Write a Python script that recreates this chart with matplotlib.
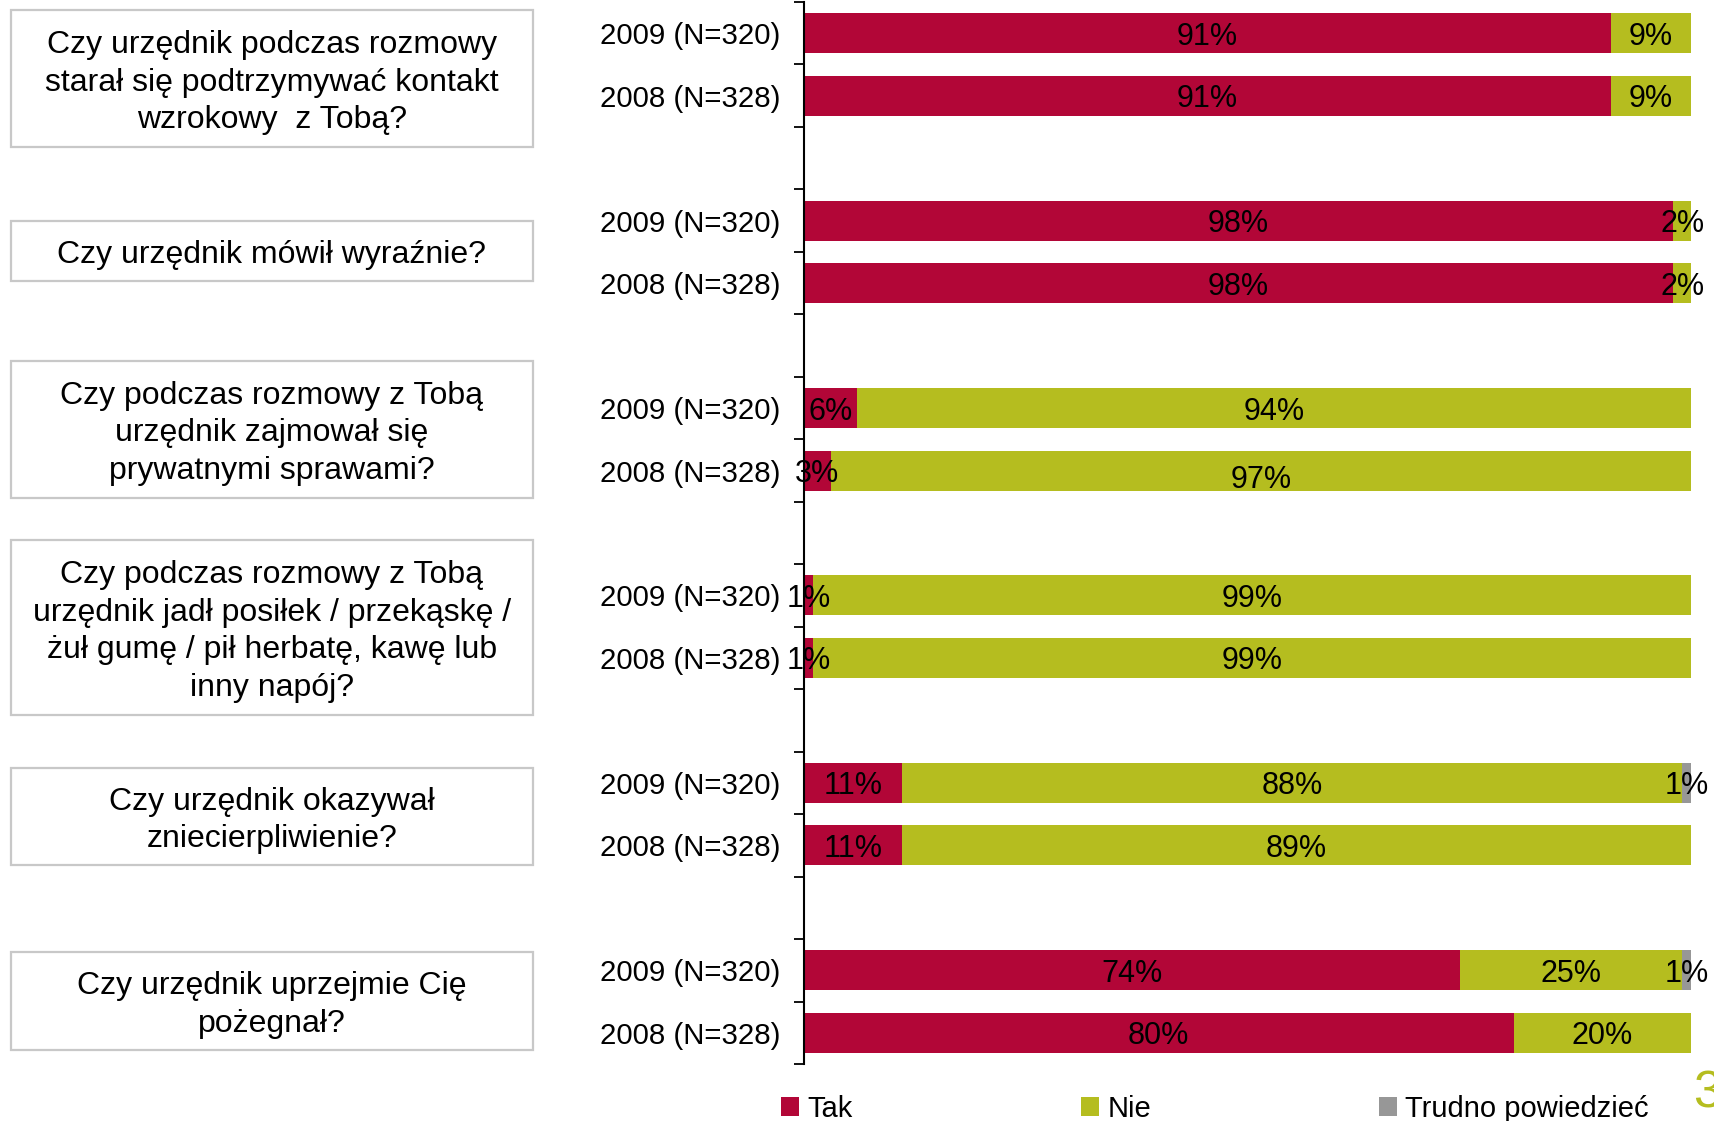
import matplotlib.pyplot as plt
from matplotlib.patches import Rectangle
import numpy as np

plt.rcParams['font.family'] = ['Liberation Sans', 'DejaVu Sans']

questions = [
    'Czy urzędnik podczas rozmowy\nstarał się podtrzymywać kontakt\nwzrokowy  z Tobą?',
    'Czy urzędnik mówił wyraźnie?',
    'Czy podczas rozmowy z Tobą\nurzędnik zajmował się\nprywatnymi sprawami?',
    'Czy podczas rozmowy z Tobą\nurzędnik jadł posiłek / przekąskę /\nżuł gumę / pił herbatę, kawę lub\ninny napój?',
    'Czy urzędnik okazywał\nzniecierpliwienie?',
    'Czy urzędnik uprzejmie Cię\npożegnał?',
]
years = ['2009 (N=320)', '2008 (N=328)']
tak = [91, 91, 98, 98, 6, 3, 1, 1, 11, 11, 74, 80]
nie = [9, 9, 2, 2, 94, 97, 99, 99, 88, 89, 25, 20]
trudno = [0, 0, 0, 0, 0, 0, 0, 0, 1, 0, 1, 0]
series = ['Tak', 'Nie', 'Trudno powiedzieć']
colors = ['#B20637', '#B5BD1F', '#979797']

W, H = 1715, 1121
fig = plt.figure(figsize=(W / 100, H / 100), dpi=100)
ax = fig.add_axes([804 / W, 1 - 1064 / H, 887 / W, 1062 / H])

# two bars per question, one empty slot between questions
pos = np.array([g * 3 + i for g in range(len(questions)) for i in range(2)])
fs = 21.2

left = np.zeros(len(pos))
handles = []
for vals, col, name in zip([tak, nie, trudno], colors, series):
    vals = np.array(vals)
    b = ax.barh(pos, vals, left=left, height=0.64, color=col, label=name)
    handles.append(b)
    for k, v in enumerate(vals):
        if v > 0:
            dy = 0.1 if (name == 'Nie' and k == 5) else 0
            ax.text(left[k] + v / 2, pos[k] + dy, f'{v}%', ha='center', va='center_baseline',
                    fontsize=22, color='black')
    left = left + vals

ax.set_xlim(0, 100)
ax.set_ylim(16.5, -0.5)
for s in ['top', 'right', 'bottom']:
    ax.spines[s].set_visible(False)
ax.spines['left'].set_linewidth(1.5)
ax.set_xticks([])
ax.set_yticks(np.arange(-0.5, 17, 1))
ax.set_yticklabels([])
ax.tick_params(axis='y', which='major', length=7, width=1.3, direction='out')
ax.set_yticks(pos, minor=True)
ax.set_yticklabels(years * len(questions), minor=True, fontsize=fs)
ax.tick_params(axis='y', which='minor', length=0, pad=17)

# question boxes
box_y = [(10, 147), (221, 281), (361, 498), (540, 715), (768, 865), (952, 1050)]
bx0, bx1 = 11, 533
for q, (y0, y1) in zip(questions, box_y):
    fig.add_artist(Rectangle((bx0 / W, 1 - y1 / H), (bx1 - bx0) / W, (y1 - y0) / H,
                             transform=fig.transFigure, fill=False, ec='#C8C8C8', lw=1.6))
    fig.text((bx0 + bx1) / 2 / W, 1 - ((y0 + y1) / 2 + 4) / H, q, ha='center', va='center',
             fontsize=23, linespacing=1.32)

fig.legend(handles=handles, labels=series, loc='center left',
           bbox_to_anchor=(781 / W, 1 - 1109 / H), ncol=3, frameon=False,
           fontsize=21, handlelength=0.62, handleheight=0.62, handletextpad=0.3,
           columnspacing=7.8, borderpad=0, borderaxespad=0)

fig.text(1693 / W, 1 - 1094 / H, '3', color='#B5BD1F', fontsize=37, ha='left', va='center')

fig.savefig('out.png', dpi=100, facecolor='white')
